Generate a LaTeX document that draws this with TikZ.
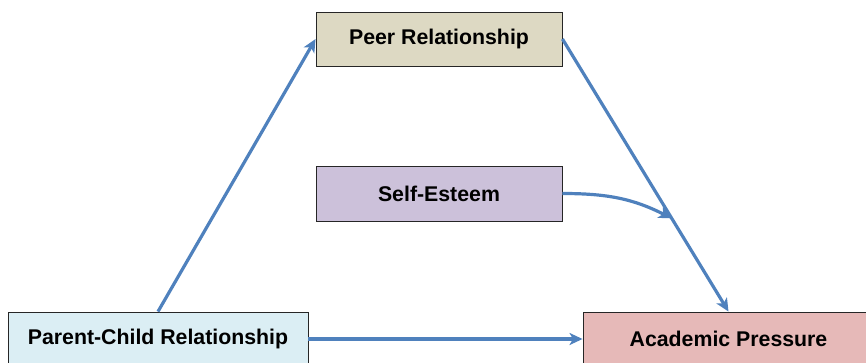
\documentclass[tikz,border=0pt]{standalone}
\usepackage{fontspec}
\setmainfont{Liberation Sans}
\usetikzlibrary{arrows.meta,calc,shadows}
\definecolor{peerc}{HTML}{DDD9C3}
\definecolor{selfc}{HTML}{CCC1DA}
\definecolor{pcc}{HTML}{DBEEF4}
\definecolor{acadc}{HTML}{E6B9B8}
\definecolor{arrc}{HTML}{4F81BD}
\begin{document}
\begin{tikzpicture}[x=1pt,y=-1pt,
  box/.style={draw=black!85, line width=0.9pt, minimum height=54pt, inner sep=0pt,
    font=\fontsize{21.3}{25}\selectfont\bfseries,
    drop shadow={shadow xshift=1.2pt, shadow yshift=-1.2pt, fill=black!45, opacity=1}},
  arr/.style={draw=arrc, line width=3.2pt, -{Stealth[length=13pt,width=12pt,inset=3.5pt]}}]
\useasboundingbox (0,0) rectangle (866,362);
\node[box, fill=peerc, minimum width=246pt] (peer) at (439,39) {Peer Relationship};
\node[box, fill=selfc, minimum width=246pt, minimum height=55pt] (self) at (439,193.5) {Self-Esteem};
\node[box, fill=pcc, minimum width=300pt] (pc) at (158,339) {Parent-Child Relationship};
\node[box, fill=acadc, minimum width=291pt] (acad) at (728.5,339) {Academic Pressure};
\draw[arr] (pc.north) -- (peer.west);
\draw[arr] (peer.east) -- (acad.north);
\draw[arr] (pc.east) -- (acad.west);
\coordinate (m) at ($(peer.east)!0.658!(acad.north)$);
\draw[arr] (self.east) to[out=0, in=153] (m);
\end{tikzpicture}
\end{document}
